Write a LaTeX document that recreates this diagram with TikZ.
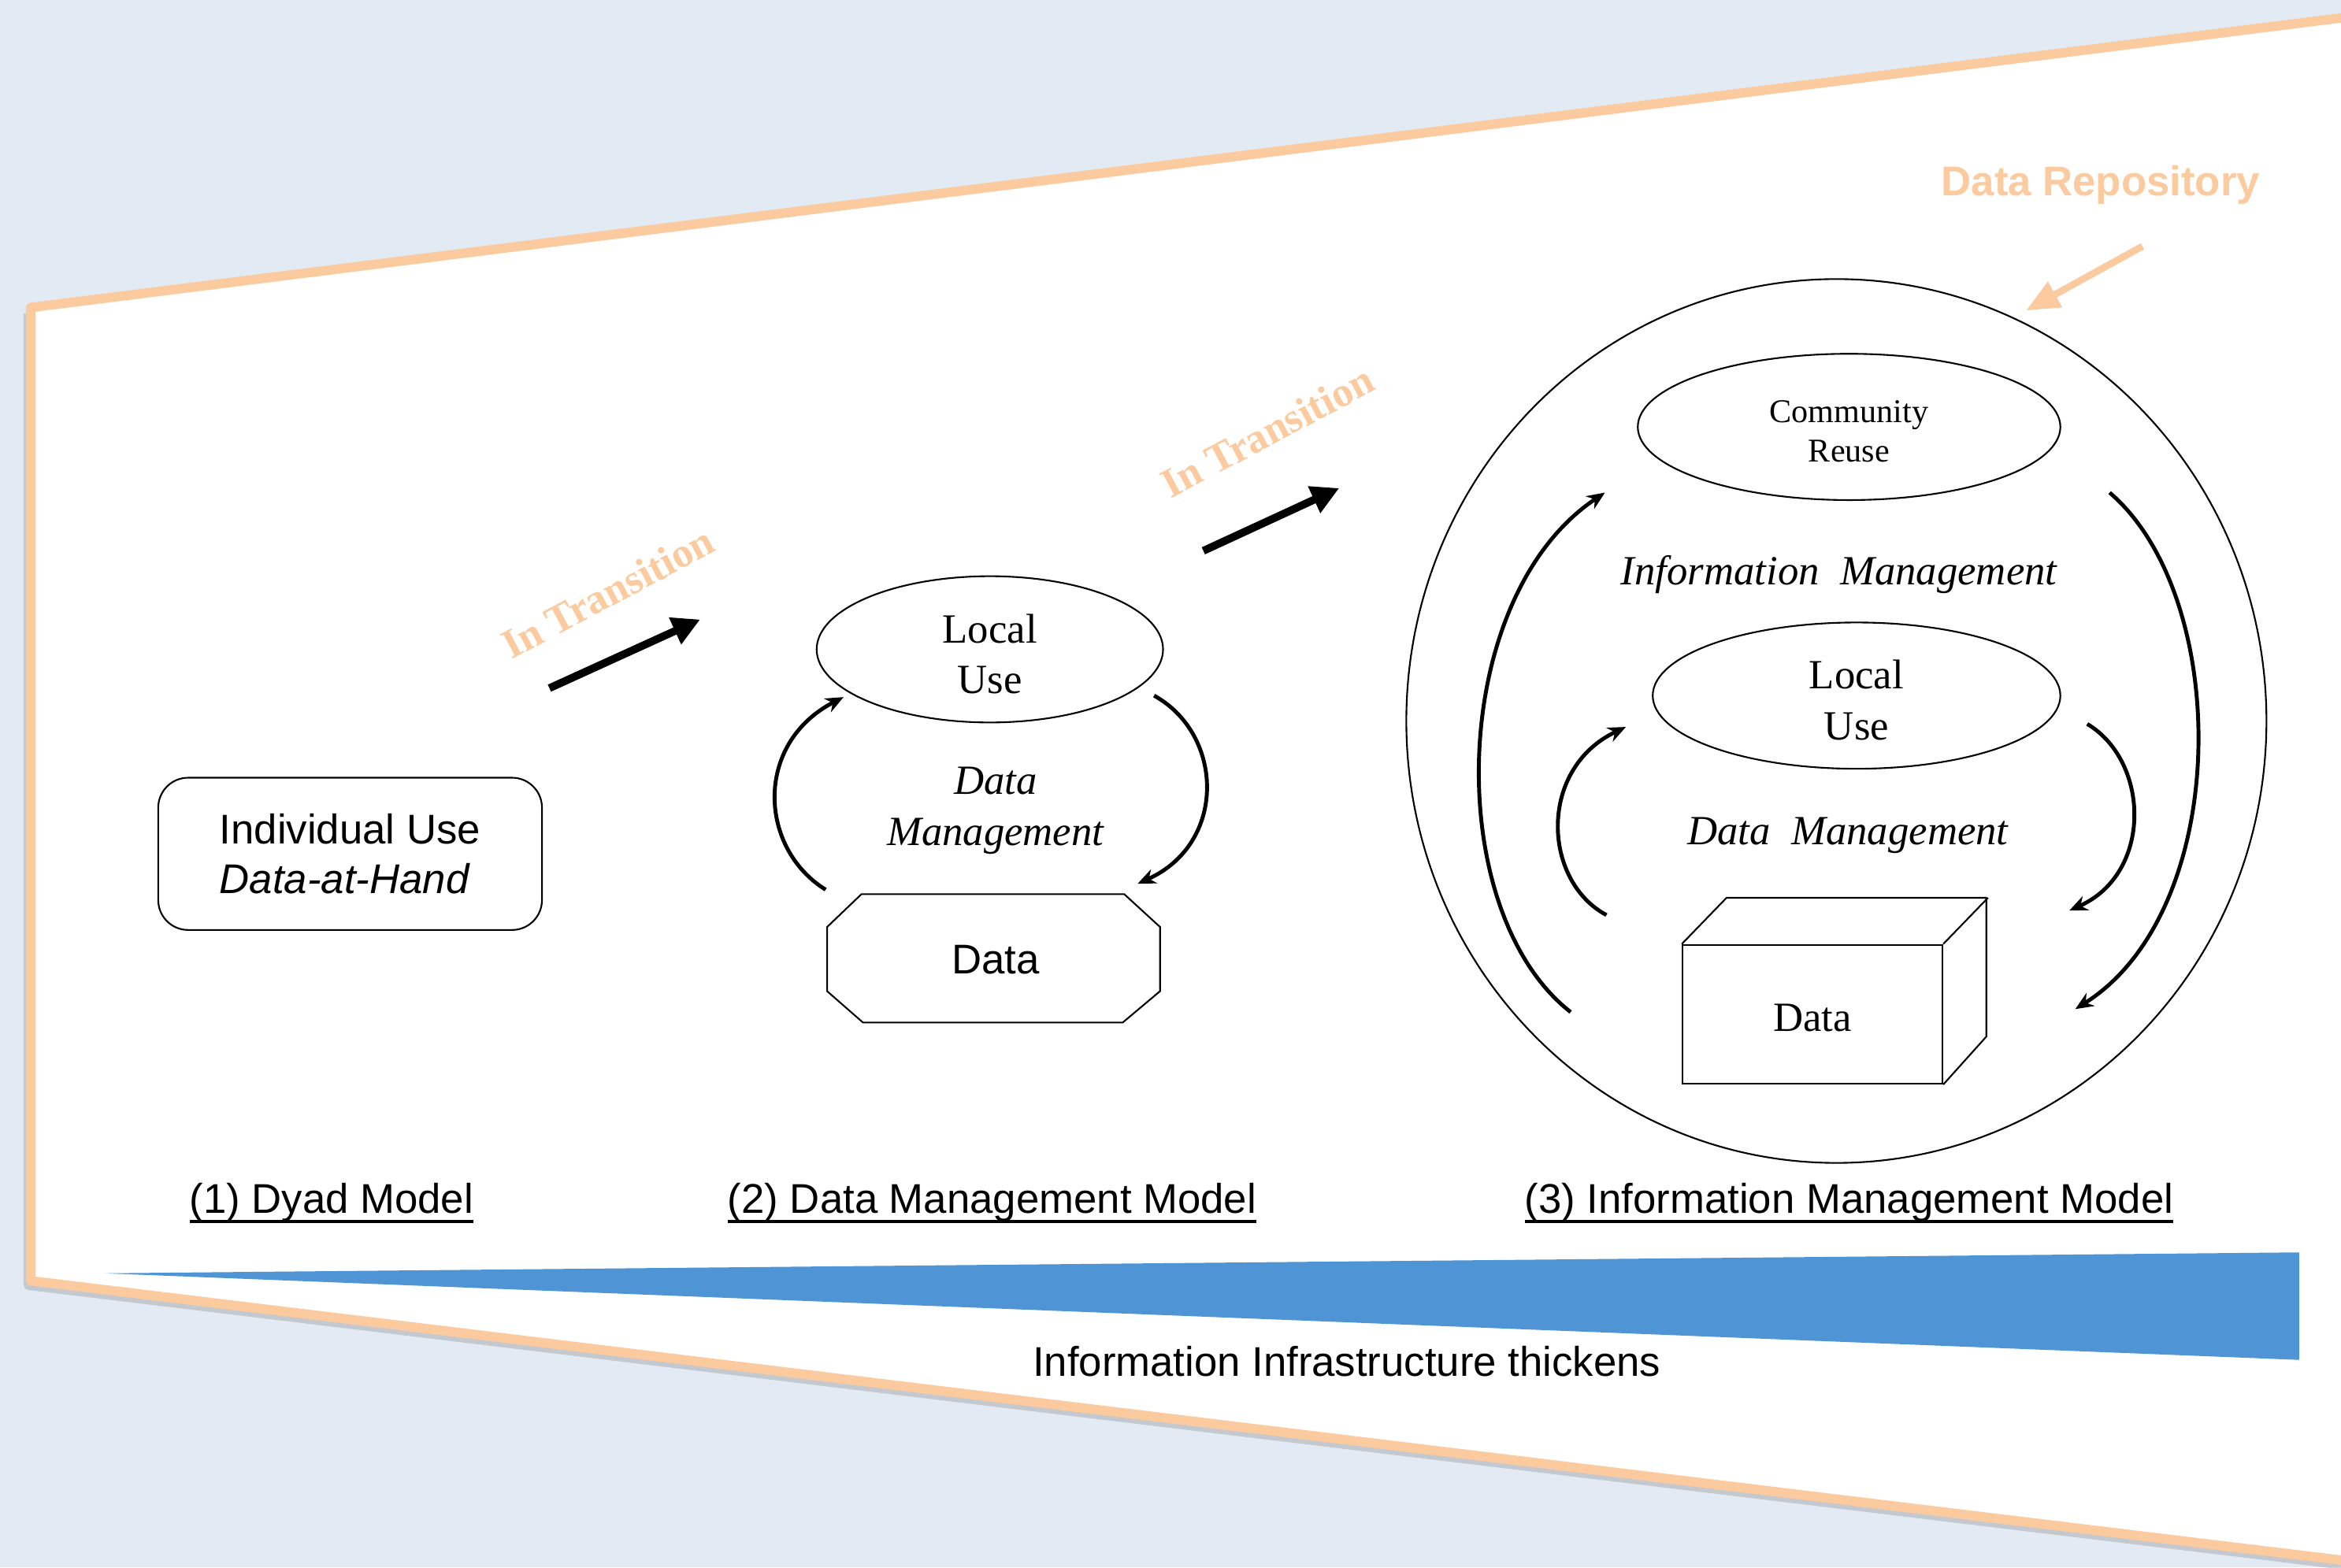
\documentclass[tikz,border=0pt]{standalone}
\usepackage{fontspec}
\setmainfont{Liberation Serif}
\setsansfont{Liberation Sans}
\usetikzlibrary{arrows.meta,shapes.geometric}
\definecolor{bgblue}{RGB}{226,234,244}
\definecolor{orng}{RGB}{251,203,159}
\definecolor{triblue}{RGB}{79,148,212}
\newcommand{\ulbar}[1]{\setbox0\hbox{#1}\rlap{\rule[-3.4pt]{\wd0}{1pt}}\box0}
\begin{document}
\begin{tikzpicture}[x=0.018954cm,y=-0.018954cm,
  sanstxt/.style={font=\sffamily\fontsize{15}{18}\selectfont},
  seriftxt/.style={font=\rmfamily\fontsize{15}{18.3}\selectfont},
  outline/.style={draw, line width=0.6pt},
  oval/.style={outline, ellipse, inner sep=0pt},
  cyc/.style={line width=1.4pt, -{Stealth[length=6.5pt,width=5.5pt]}},
  trans/.style={line width=2.8pt, -{Triangle[length=10pt,width=10pt]}},
  transtxt/.style={font=\rmfamily\bfseries\fontsize{15}{18}\selectfont, text=orng, rotate=28},
  label/.style={sanstxt, anchor=base}
]
\useasboundingbox (0,0) rectangle (1568,1050);
\fill[bgblue] (0,0) rectangle (1568,1050);
\begin{scope}
\clip (0,0) rectangle (1568,1050);
\fill[white] (20.5,206) -- (1600,8) -- (1600,1049) -- (20.5,858) -- cycle;
\draw[black!45, line width=3.4pt, line join=round, opacity=0.35] (19,210) -- (19,861) -- (1600,1052);
\draw[orng, line width=3.4pt, line join=round] (1600,8) -- (20.5,206) -- (20.5,858) -- (1600,1049);
\end{scope}

% blue wedge
\fill[triblue] (70,853) -- (1540,839) -- (1540,911) -- cycle;
\node[label] (thick) at (902,922) {Information Infrastructure thickens};

% model labels
\node[label] (lab1) at (222,813) {\ulbar{(1) Dyad Model}};
\node[label] (lab2) at (664.5,813) {\ulbar{(2) Data Management Model}};
\node[label] (lab3) at (1238.5,813) {\ulbar{(3) Information Management Model}};

% model 1
\node[outline, rounded corners=0.38cm, minimum width=4.871cm, minimum height=1.933cm, sanstxt, align=left] (dyad) at (234.5,572) {Individual Use\\\textit{Data-at-Hand}};

% transitions
\coordinate (t1s) at (368,461);
\coordinate (t1e) at (469,415);
\draw[trans] (t1s) -- (t1e);
\node[transtxt] (tt1) at (407,397) {In Transition};
\coordinate (t2s) at (806,369);
\coordinate (t2e) at (897,327);
\draw[trans] (t2s) -- (t2e);
\node[transtxt] (tt2) at (849,289) {In Transition};

% model 2
\node[oval, minimum width=4.397cm, minimum height=1.857cm] (local2) at (663,435) {};
\node[seriftxt, align=center] (local2t) at (663,438) {Local\\Use};
\draw[line width=0.6pt] (577,599) -- (753,599) -- (777,621) -- (777,664) -- (752,685) -- (578,685) -- (554,664) -- (554,621) -- cycle;
\node[sanstxt] (data2) at (667,643) {Data};
\node[seriftxt, align=center] (dm2) at (667,543) {\textit{Data}\\\textit{Management}};
\coordinate (a2s) at (553,596);
\coordinate (a2e) at (565,467);
\draw[cyc] (a2s) .. controls (508,568) and (505,498) .. (a2e);
\coordinate (b2s) at (773,466);
\coordinate (b2e) at (762,592);
\draw[cyc] (b2s) .. controls (820,492) and (822,565) .. (b2e);

% model 3
\node[oval, minimum width=10.918cm, minimum height=11.221cm] (repo) at (1230,483) {};
\node[oval, minimum width=5.364cm, minimum height=1.857cm] (comm) at (1238.5,286) {};
\node[font=\rmfamily\fontsize{12}{14}\selectfont, align=center] (commt) at (1238.5,289) {Community\\Reuse};
\node[seriftxt] (im) at (1232,385) {\textit{Information\ \ Management}};
\node[oval, minimum width=5.174cm, minimum height=1.857cm] (local3) at (1243.5,466) {};
\node[seriftxt, align=center] (local3t) at (1243.5,469) {Local\\Use};
\node[seriftxt] (dm3) at (1238,559.5) {\textit{Data\ \ Management}};
\node[outline, minimum width=3.298cm, minimum height=1.763cm] (data3) at (1214,679.5) {};
\node[seriftxt] (data3t) at (1214,682) {Data};
\draw[line width=0.6pt, line join=round] (data3.north west) -- ++(30,-31) -- ++(174,0) -- ++(0,93) -- (data3.south east);
\draw[line width=0.6pt] (data3.north east) -- ++(30,-31);

\coordinate (a3s) at (1076,613);
\coordinate (a3e) at (1089,487);
\draw[cyc] (a3s) .. controls (1033,590) and (1030,515) .. (a3e);
\coordinate (b3s) at (1398,485);
\coordinate (b3e) at (1386,610);
\draw[cyc] (b3s) .. controls (1440,510) and (1442,585) .. (b3e);
\coordinate (c3s) at (1052,678);
\coordinate (c3e) at (1075,330);
\draw[cyc] (c3s) .. controls (965,610) and (970,400) .. (c3e);
\coordinate (d3s) at (1413,330);
\coordinate (d3e) at (1390,676);
\draw[cyc] (d3s) .. controls (1495,400) and (1495,610) .. (d3e);

% data repository
\node[font=\sffamily\bfseries\fontsize{15}{18}\selectfont, text=orng] (reptxt) at (1407,124) {Data Repository};
\coordinate (r1) at (1435,165);
\coordinate (r2) at (1357,208);
\draw[orng, line width=2.5pt, -{Triangle[length=12pt,width=10pt]}] (r1) -- (r2);
\end{tikzpicture}
\end{document}
